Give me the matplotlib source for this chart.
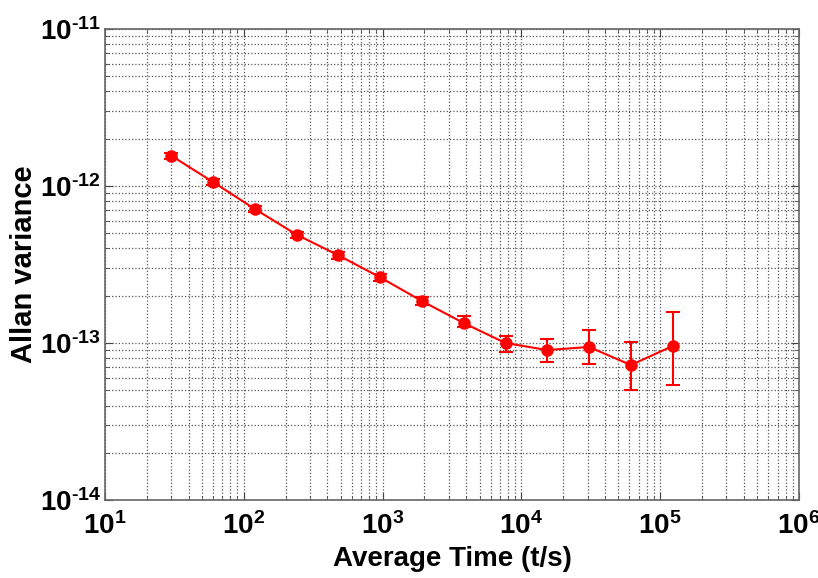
import numpy as np
import matplotlib.pyplot as plt
from matplotlib.ticker import LogLocator, FuncFormatter

plt.rcParams['font.family'] = ['Liberation Sans', 'DejaVu Sans']
plt.rcParams['mathtext.fontset'] = 'custom'
plt.rcParams['mathtext.bf'] = 'Liberation Sans:bold'
plt.rcParams['mathtext.rm'] = 'Liberation Sans:bold'
plt.rcParams['mathtext.it'] = 'Liberation Sans:bold'

# averaging time (s) and Allan variance with error bar limits
tau = [30, 60, 120, 240, 480, 960, 1920, 3840, 7680, 15360, 30720, 61440, 122880]
avar = [1.56e-12, 1.06e-12, 7.14e-13, 4.90e-13, 3.62e-13, 2.62e-13, 1.85e-13,
        1.34e-13, 1.00e-13, 9.02e-14, 9.44e-14, 7.24e-14, 9.57e-14]
err_hi = [1.63e-12, 1.11e-12, 7.45e-13, 5.12e-13, 3.80e-13, 2.76e-13, 1.96e-13,
          1.49e-13, 1.11e-13, 1.06e-13, 1.21e-13, 1.01e-13, 1.57e-13]
err_lo = [1.49e-12, 1.01e-12, 6.84e-13, 4.69e-13, 3.45e-13, 2.49e-13, 1.75e-13,
          1.26e-13, 8.77e-14, 7.57e-14, 7.35e-14, 5.02e-14, 5.39e-14]

tau = np.array(tau)
avar = np.array(avar)
yerr = [avar - np.array(err_lo), np.array(err_hi) - avar]

fig = plt.figure(figsize=(8.18, 5.78), dpi=100)
ax = fig.add_axes([0.1284, 0.1349, 0.8484, 0.8149])

ax.errorbar(tau, avar, yerr=yerr, color='red', lw=1.5, marker='o', ms=8,
            capsize=5, elinewidth=1.5, capthick=1.5)

ax.set_xscale('log')
ax.set_yscale('log')
ax.set_xlim(1e1, 1e6)
ax.set_ylim(1e-14, 1e-11)

ax.xaxis.set_major_locator(LogLocator(base=10, numticks=10))
ax.xaxis.set_minor_locator(LogLocator(base=10, subs=np.arange(2, 10), numticks=20))
ax.yaxis.set_major_locator(LogLocator(base=10, numticks=10))
ax.yaxis.set_minor_locator(LogLocator(base=10, subs=np.arange(2, 10), numticks=20))

def fmt(v, pos):
    e = int(round(np.log10(v)))
    if e < 0:
        return r'$\mathbf{10^{\text{-}%d}}$' % (-e)
    return r'$\mathbf{10^{%d}}$' % e

ax.xaxis.set_major_formatter(FuncFormatter(fmt))
ax.yaxis.set_major_formatter(FuncFormatter(fmt))

ax.grid(True, which='both', linestyle=':', color='#555555', lw=0.9)
ax.tick_params(which='both', direction='in', top=True, right=True, color='#444444')
ax.tick_params(which='major', length=6, labelsize=20)
ax.tick_params(which='minor', length=3)
ax.tick_params(axis='x', pad=9)
ax.tick_params(axis='y', pad=3)
for s in ax.spines.values():
    s.set_color('#666666')
    s.set_linewidth(1.2)

ax.set_xlabel('Average Time (t/s)', fontsize=20, fontweight='bold')
ax.set_ylabel('Allan variance', fontsize=21, fontweight='bold')
ax.xaxis.set_label_coords(0.5, -0.097)
ax.yaxis.set_label_coords(-0.097, 0.5)

fig.savefig('out.png', dpi=100)
